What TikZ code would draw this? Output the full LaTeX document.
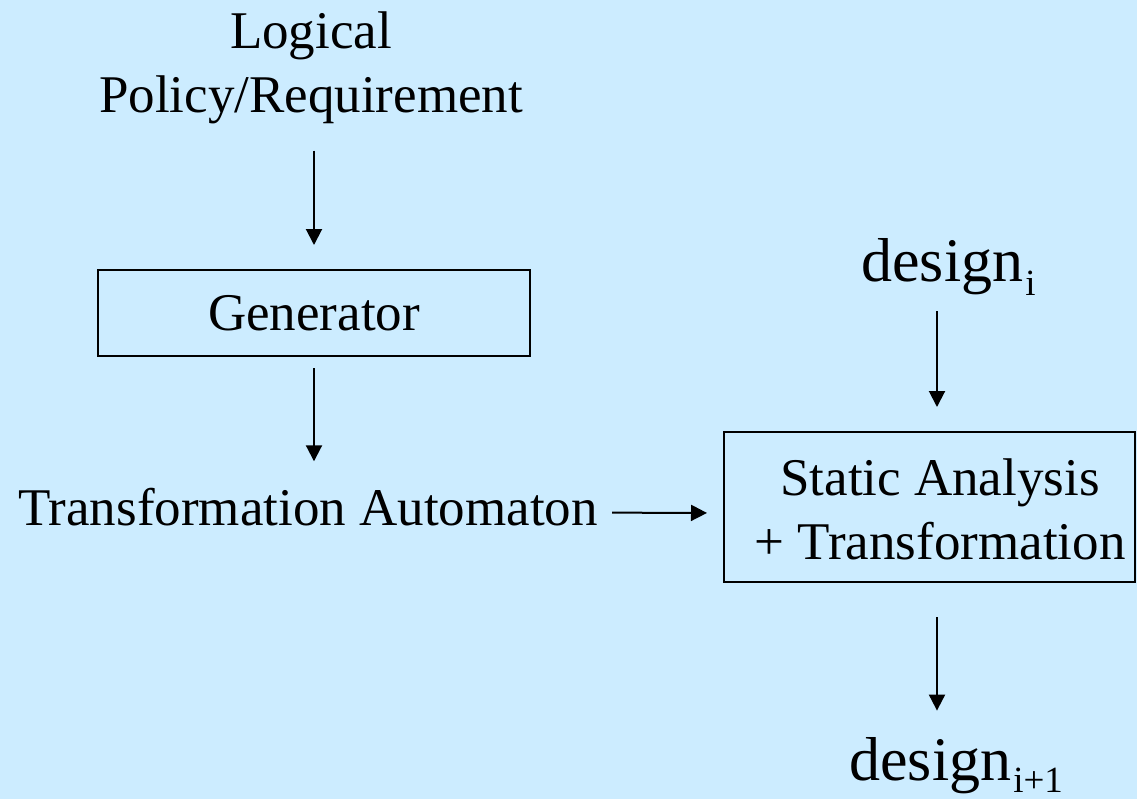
\documentclass[tikz,border=0pt]{standalone}
\usepackage{fontspec}
\setmainfont{Liberation Serif}
\usetikzlibrary{arrows.meta}
\definecolor{slidebg}{RGB}{204,236,255}
\newcommand{\bodyfont}{\fontsize{26.5}{32}\selectfont}
\newcommand{\bigfont}{\fontsize{31}{36}\selectfont}
\newcommand{\subfont}{\fontsize{18.5}{21}\selectfont}
\tikzset{
  lbl/.style={inner sep=0pt, font=\bodyfont, align=center},
  procbox/.style={draw=black, line width=1pt, inner sep=0pt},
  flow/.style={draw=black, line width=1pt, -{Triangle[length=8pt,width=8pt]}},
}
\begin{document}
\begin{tikzpicture}[x=0.5pt, y=-0.5pt]
  % slide background
  \fill[slidebg] (0,0) rectangle (1137,799);
  \useasboundingbox (0,0) rectangle (1137,799);

  % left column
  \node[lbl] (req) at (311,68) {Logical\\Policy/Requirement};
  \node[procbox, minimum width=216pt, minimum height=43pt, font=\bodyfont]
       (gen) at (314,313) {Generator};
  \node[lbl, anchor=base] (ta) at (308,525) {Transformation Automaton};

  % right column
  \node[procbox, minimum width=205.5pt, minimum height=75pt] (sat) at (929.5,507) {};
  \node[lbl] (sattext) at (940,509) {Static Analysis\\+ Transformation};
  \node[inner sep=0pt, anchor=base west, font=\bigfont] (din) at (861,281)
       {design\hspace{1pt}\raisebox{-7pt}{\subfont i}};
  \node[inner sep=0pt, anchor=base west, font=\bigfont] (dout) at (849,780)
       {design\hspace{1pt}\raisebox{-6pt}{\subfont i+1}};

  \coordinate (rx) at (937,0);

  % connectors
  \draw[flow, shorten <=13pt, shorten >=12pt] (gen.north |- req.south) -- (gen.north);
  \draw[flow, shorten <=5.5pt, shorten >=13pt] (gen.south) -- (gen.south |- ta.north);
  \draw[flow, shorten <=7pt, shorten >=8pt, transform canvas={yshift=-3pt}]
       (ta.east) -- (sat.west);
  \draw[flow, shorten <=8pt, shorten >=12pt] (din.south -| rx) -- (sat.north -| rx);
  \draw[flow, shorten <=17pt, shorten >=13pt] (sat.south -| rx) -- (dout.north -| rx);
\end{tikzpicture}
\end{document}
